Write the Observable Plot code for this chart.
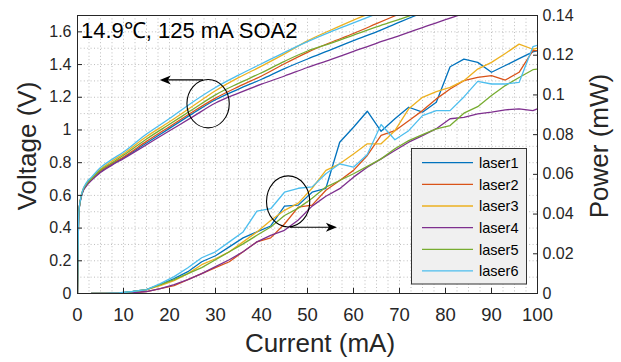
<!DOCTYPE html>
<html><head><meta charset="utf-8">
<script src="https://cdn.jsdelivr.net/npm/d3@7"></script>
<script src="https://cdn.jsdelivr.net/npm/@observablehq/plot@0.6"></script>
<style>body{margin:0;background:#fff}#chart{width:621px;height:362px}</style>
</head><body><div id="chart"></div>
<script>
const lasers = ["laser1","laser2","laser3","laser4","laser5","laser6"];
const colors = ["#0072BD","#D95319","#EDB120","#7E2F8E","#77AC30","#4DBEEE"];

// Voltage (V) vs current (mA)
const vCurrent = [0,0.3,1,2,3,5,7.5,10,15,20,25,30,35,40,45,50,55,60,65,70,75,80,85];
const vLaser1 = [0,0.50,0.61,0.665,0.695,0.745,0.79,0.83,0.92,1.01,1.10,1.185,1.25,1.31,1.375,1.434,1.49,1.547,1.60,1.66,1.717];
const vLaser2 = [0,0.50,0.615,0.67,0.70,0.75,0.795,0.835,0.93,1.02,1.11,1.195,1.265,1.33,1.405,1.475,1.535,1.59,1.65,1.71];
const vLaser3 = [0,0.50,0.62,0.675,0.705,0.76,0.81,0.855,0.96,1.05,1.145,1.24,1.32,1.39,1.465,1.545,1.61,1.672,1.73];
const vLaser4 = [0,0.50,0.61,0.66,0.69,0.74,0.785,0.825,0.91,0.995,1.08,1.165,1.225,1.28,1.33,1.382,1.43,1.48,1.53,1.577,1.626,1.675,1.72];
const vLaser5 = [0,0.50,0.615,0.67,0.70,0.755,0.80,0.845,0.945,1.035,1.125,1.215,1.285,1.35,1.42,1.483,1.53,1.58,1.63,1.677,1.725];
const vLaser6 = [0,0.50,0.62,0.68,0.71,0.77,0.82,0.865,0.975,1.07,1.17,1.26,1.335,1.405,1.475,1.54,1.60,1.655,1.71];

// Optical power (mW) vs current (mA)
const pCurrent = [3,6,9,12,15,18,21,24,27,30,33,36,39,42,45,48,51,54,57,60,63,66,69,72,75,78,81,84,87,90,93,96,99,100];
const pLaser1 = [0,0,0.0003,0.001,0.002,0.0045,0.0075,0.011,0.016,0.019,0.0235,0.028,0.031,0.034,0.044,0.0445,0.051,0.053,0.0762,0.0837,0.0918,0.0817,0.088,0.0938,0.0913,0.0963,0.1142,0.118,0.1164,0.1114,0.1148,0.1183,0.1217,0.1223];
const pLaser2 = [0,0,0,0.0004,0.001,0.0025,0.004,0.007,0.010,0.013,0.016,0.021,0.026,0.028,0.035,0.0435,0.0445,0.052,0.0569,0.062,0.0695,0.0796,0.082,0.087,0.0921,0.098,0.103,0.1072,0.1088,0.1097,0.1075,0.1114,0.1223,0.1223];
const pLaser3 = [0,0,0.0002,0.0008,0.002,0.004,0.0065,0.010,0.0145,0.0175,0.021,0.026,0.031,0.0368,0.0419,0.0455,0.053,0.062,0.0653,0.0703,0.0754,0.0754,0.082,0.093,0.0988,0.1017,0.1038,0.1072,0.113,0.1164,0.1209,0.1256,0.123,0.1235];
const pLaser4 = [0,0,0,0.0004,0.001,0.0025,0.0045,0.007,0.010,0.0135,0.017,0.021,0.026,0.0293,0.0318,0.037,0.044,0.049,0.0528,0.0586,0.0636,0.0678,0.072,0.0762,0.0795,0.083,0.088,0.0887,0.0905,0.0913,0.0925,0.093,0.0921,0.093];
const pLaser5 = [0,0,0.0002,0.001,0.002,0.0045,0.007,0.010,0.013,0.017,0.021,0.025,0.0293,0.0335,0.0393,0.043,0.048,0.0536,0.0569,0.0603,0.064,0.0678,0.0729,0.077,0.08,0.0829,0.0846,0.0908,0.0941,0.0997,0.1047,0.1088,0.1127,0.113];
const pLaser6 = [0,0,0.0003,0.001,0.002,0.005,0.0085,0.013,0.018,0.021,0.026,0.031,0.0415,0.0427,0.051,0.053,0.0537,0.0603,0.0653,0.0636,0.070,0.0851,0.0774,0.082,0.0896,0.0921,0.0921,0.099,0.1068,0.1055,0.1055,0.1063,0.1243,0.125];

const xTicks = [0,10,20,30,40,50,60,70,80,90,100];
const vTicks = [0,0.2,0.4,0.6,0.8,1,1.2,1.4,1.6];
const pTicks = [0,0.02,0.04,0.06,0.08,0.1,0.12,0.14];
const xGrid = [2.5,5,7.5,10,12.5,15,17.5,20,22.5,25,27.5,30,32.5,35,37.5,40,42.5,45,47.5,50,52.5,55,57.5,60,62.5,65,67.5,70,72.5,75,77.5,80,82.5,85,87.5,90,92.5,95,97.5];
const vGrid = [0.1,0.2,0.3,0.4,0.5,0.6,0.7,0.8,0.9,1,1.1,1.2,1.3,1.4,1.5,1.6];
const vMax = 1.7, pMax = 0.14;
const titleText = "14.9\u2103, 125 mA SOA2";
const xLabel = "Current (mA)", yLabel = "Voltage (V)", y2Label = "Power (mW)";

const k = vMax / pMax; // maps power onto the voltage scale (right axis)
const vSeries = [vLaser1,vLaser2,vLaser3,vLaser4,vLaser5,vLaser6];
const pSeries = [pLaser1,pLaser2,pLaser3,pLaser4,pLaser5,pLaser6];
const vRows = [], pRows = [];
lasers.forEach((l, i) => {
  vSeries[i].forEach((v, j) => vRows.push({laser: l, I: vCurrent[j], V: v}));
  pSeries[i].forEach((p, j) => pRows.push({laser: l, I: pCurrent[j], P: p}));
});

const font = "'Liberation Sans', Arial, sans-serif";
const ink = "#262626";
const chart = Plot.plot({
  width: 621, height: 362,
  marginLeft: 77, marginRight: 84, marginTop: 15, marginBottom: 69,
  style: {fontFamily: font, background: "white", overflow: "visible"},
  x: {domain: [0, 100]},
  y: {domain: [0, vMax]},
  color: {domain: lasers, range: colors},
  marks: [
    Plot.gridX(xGrid, {stroke: "#bdbdbd", strokeOpacity: 1, strokeDasharray: "1,2.4"}),
    Plot.gridY(vGrid, {stroke: "#bdbdbd", strokeOpacity: 1, strokeDasharray: "1,2.4"}),
    Plot.line(vRows, {x: "I", y: "V", z: "laser", stroke: "laser", strokeWidth: 1.3, curve: "monotone-x", clip: true}),
    Plot.line(pRows, {x: "I", y: d => d.P * k, z: "laser", stroke: "laser", strokeWidth: 1.3, clip: true}),
    Plot.frame({stroke: ink, strokeWidth: 1}),
    Plot.axisX({ticks: xTicks, anchor: "bottom", tickSize: -5, tickPadding: 19, fontSize: 18.5, color: ink, label: null, tickFormat: d => String(d)}),
    Plot.axisY({ticks: vTicks, anchor: "left", tickSize: -5, tickPadding: 11, fontSize: 16, color: ink, label: null, tickFormat: d => d3.format("~g")(d)}),
    Plot.axisY({ticks: pTicks.map(p => p * k), anchor: "right", tickSize: -5, tickPadding: 10, fontSize: 16, color: ink, label: null, tickFormat: d => d3.format("~g")(+(d / k).toFixed(4))})
  ]
});
document.getElementById("chart").appendChild(chart);

const svg = d3.select(chart);
const X = v => chart.scale("x").apply(v);
const Y = v => chart.scale("y").apply(v);

// title inside the axes
svg.append("text").attr("x", X(0) + 4).attr("y", 38).attr("font-size", 22).attr("fill", "#000")
  .attr("text-anchor", "start").attr("font-family", font).text(titleText);

// axis titles
svg.append("text").attr("x", 320).attr("y", 352).attr("text-anchor", "middle").attr("font-size", 26)
  .attr("fill", ink).attr("font-family", font).text(xLabel);
svg.append("text").attr("transform", "translate(36,146) rotate(-90)").attr("text-anchor", "middle")
  .attr("font-size", 26).attr("fill", ink).attr("font-family", font).text(yLabel);
svg.append("text").attr("transform", "translate(608,146) rotate(-90)").attr("text-anchor", "middle")
  .attr("font-size", 26).attr("fill", ink).attr("font-family", font).text(y2Label);

// annotations: ellipses + arrows (in data units)
function ellipse(cI, cV, dI, dV) {
  svg.append("ellipse").attr("cx", X(cI)).attr("cy", Y(cV))
    .attr("rx", X(cI + dI) - X(cI)).attr("ry", Y(cV - dV) - Y(cV))
    .attr("fill", "none").attr("stroke", "#000").attr("stroke-width", 1.1);
}
function arrow(i0, i1, v) {
  const x0 = X(i0), x1 = X(i1), y = Y(v);
  const dir = Math.sign(x1 - x0);
  svg.append("line").attr("x1", x0).attr("x2", x1 - dir * 6).attr("y1", y).attr("y2", y)
    .attr("stroke", "#000").attr("stroke-width", 1.1);
  svg.append("path").attr("d", "M0,0L-11,-4.5L-8,0L-11,4.5Z")
    .attr("transform", `translate(${x1},${y}) scale(${dir},1)`).attr("fill", "#000");
}
ellipse(28.5, 1.158, 4.6, 0.148);
arrow(27.4, 18.0, 1.303);
ellipse(45.9, 0.56, 4.7, 0.156);
arrow(46.3, 56.5, 0.402);

// legend box
const lg = svg.append("g");
lg.append("rect").attr("x", 411.5).attr("y", 148.5).attr("width", 115).attr("height", 135.5)
  .attr("fill", "#f0f0f0").attr("stroke", "#333").attr("stroke-width", 1);
lasers.forEach((l, i) => {
  const yy = 162.7 + 21.65 * i;
  lg.append("line").attr("x1", 422).attr("x2", 473).attr("y1", yy).attr("y2", yy)
    .attr("stroke", colors[i]).attr("stroke-width", 1.3);
  lg.append("text").attr("x", 479).attr("y", yy).attr("dy", "0.36em").attr("font-size", 14.5)
    .attr("text-anchor", "start").attr("fill", "#000").attr("font-family", font).text(l);
});
</script>
</body></html>
